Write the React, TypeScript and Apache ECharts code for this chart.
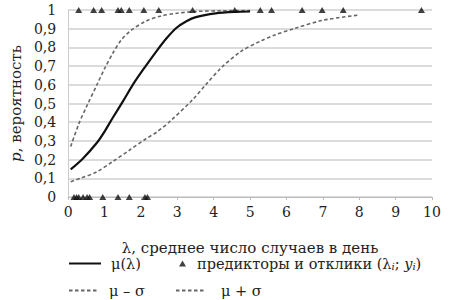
import React, { useEffect, useRef } from "react";
import * as echarts from "echarts";

// μ(λ) curve points [λ, p]
const muPoints: [number, number][] = [
  [0.07, 0.148], [0.4, 0.205], [0.79, 0.29], [1.0, 0.35], [1.23, 0.425],
  [1.5, 0.51], [1.81, 0.61], [2.13, 0.7], [2.44, 0.783], [2.71, 0.85],
  [2.98, 0.905], [3.25, 0.94], [3.51, 0.962], [4.05, 0.982], [4.58, 0.99], [5.0, 0.992],
];
// μ + σ
const upperPoints: [number, number][] = [
  [0.07, 0.27], [0.29, 0.39], [0.52, 0.49], [0.79, 0.6], [1.01, 0.69],
  [1.23, 0.77], [1.46, 0.84], [1.72, 0.89], [2.13, 0.94], [2.53, 0.967],
  [3.0, 0.983], [3.5, 0.992], [4.2, 0.996], [5.0, 0.997],
];
// μ − σ
const lowerPoints: [number, number][] = [
  [0.07, 0.082], [0.34, 0.1], [0.79, 0.135], [1.23, 0.19], [1.68, 0.25],
  [2.13, 0.31], [2.44, 0.348], [2.8, 0.405], [3.42, 0.52], [3.78, 0.6],
  [4.23, 0.695], [4.76, 0.78], [5.3, 0.835], [5.66, 0.865], [6.2, 0.9],
  [7.0, 0.945], [7.98, 0.973],
];
// observed predictors with response 1 and 0
const lambdasY1 = [0.29, 0.7, 0.92, 1.37, 1.46, 1.68, 2.08, 2.49, 3.42, 4.58, 5.28, 5.59, 6.43, 6.98, 7.56, 9.71];
const lambdasY0 = [0.16, 0.23, 0.29, 0.41, 0.52, 0.59, 0.95, 1.37, 1.68, 2.11, 2.18];

const xTicks = [0, 1, 2, 3, 4, 5, 6, 7, 8, 9, 10];

const NAME_MU = "μ(λ)";
const NAME_OBS = "предикторы и отклики (λi; yi)";
const NAME_LOW = "μ – σ";
const NAME_UP = "μ + σ";

const FONT = "DejaVu Serif";

export default function App() {
  const ref = useRef<HTMLDivElement>(null);
  useEffect(() => {
    if (!ref.current) return;
    const chart = echarts.init(ref.current, undefined, { renderer: "svg" });
    const obs = [
      ...lambdasY1.map((l) => [l, 1]),
      ...lambdasY0.map((l) => [l, 0]),
    ];
    const col = "#222";
    const legText = { fontFamily: FONT, fontSize: 14.5, color: col, padding: [0, 0, 0, 5] };
    const legendBase = {
      orient: "horizontal" as const,
      padding: 0,
      itemHeight: 10,
      itemStyle: { opacity: 0 },
      textStyle: legText,
    };
    chart.setOption({
      animation: false,
      backgroundColor: "#fff",
      textStyle: { fontFamily: FONT },
      grid: { left: 59, right: 17, top: 10, bottom: 103, containLabel: false },
      xAxis: {
        type: "value",
        min: xTicks[0],
        max: xTicks[xTicks.length - 1],
        interval: 1,
        name: "λ, среднее число случаев в день",
        nameLocation: "middle",
        nameGap: 43,
        nameTextStyle: { fontFamily: FONT, fontSize: 15, color: col },
        axisLine: { show: true, lineStyle: { color: "#bbb", width: 1 } },
        axisTick: { show: true, length: 3, lineStyle: { color: "#bbb" } },
        axisLabel: { fontFamily: FONT, fontSize: 14, color: col, margin: 8 },
        splitLine: { show: false },
      },
      yAxis: {
        type: "value",
        min: 0,
        max: 1,
        interval: 0.1,
        name: "{i|p}, вероятность",
        nameLocation: "middle",
        nameGap: 42,
        nameRotate: 90,
        nameTextStyle: {
          fontFamily: FONT,
          fontSize: 15,
          color: col,
          rich: { i: { fontFamily: FONT, fontSize: 15, fontStyle: "italic", color: col } },
        },
        axisLine: { show: true, lineStyle: { color: "#ccc", width: 1 } },
        axisTick: { show: false },
        axisLabel: {
          fontFamily: FONT,
          fontSize: 14,
          color: col,
          margin: 12,
          formatter: (v: number) =>
            v === 0 ? "0" : v === 1 ? "1" : v.toFixed(1).replace(".", ","),
        },
        splitLine: { show: true, lineStyle: { color: "#d0d0d0", width: 1.6 } },
      },
      legend: [
        { ...legendBase, data: [NAME_MU], left: 68, top: 256, itemWidth: 32 },
        {
          ...legendBase,
          data: [{ name: NAME_OBS, icon: "triangle" }],
          left: 179,
          top: 256,
          itemWidth: 7,
          itemHeight: 6,
          itemStyle: { color: "#111" },
          formatter: () => "предикторы и отклики (λ{s|i}; {it|y}{s|i})",
          textStyle: {
            ...legText,
            padding: [0, 0, 0, 6],
            rich: {
              s: { fontFamily: FONT, fontSize: 10, fontStyle: "italic", color: col, padding: [5, 0, 0, 0] },
              it: { fontFamily: FONT, fontSize: 14.5, fontStyle: "italic", color: col },
            },
          },
        },
        { ...legendBase, data: [NAME_LOW], left: 68, top: 283, itemWidth: 30 },
        { ...legendBase, data: [NAME_UP], left: 175, top: 283, itemWidth: 28, textStyle: { ...legText, padding: [0, 0, 0, 12] } },
      ],
      series: [
        {
          name: NAME_UP,
          type: "line",
          data: upperPoints,
          smooth: 0.3,
          symbol: "none",
          lineStyle: { color: "#666", width: 1.6, type: [3.5, 2.5] },
          itemStyle: { color: "#666" },
          z: 2,
        },
        {
          name: NAME_LOW,
          type: "line",
          data: lowerPoints,
          smooth: 0.3,
          symbol: "none",
          lineStyle: { color: "#666", width: 1.6, type: [3.5, 2.5] },
          itemStyle: { color: "#666" },
          z: 2,
        },
        {
          name: NAME_MU,
          type: "line",
          data: muPoints,
          smooth: 0.3,
          symbol: "none",
          lineStyle: { color: "#111", width: 2.2 },
          itemStyle: { color: "#111" },
          z: 3,
        },
        {
          name: NAME_OBS,
          type: "scatter",
          data: obs,
          symbol: "triangle",
          symbolSize: [7, 6],
          clip: false,
          itemStyle: { color: "#111" },
          z: 4,
        },
      ],
    });
    return () => chart.dispose();
  }, []);
  return (
    <div
      ref={ref}
      style={{ position: "fixed", left: 0, top: 0, width: 449, height: 300 }}
    />
  );
}
